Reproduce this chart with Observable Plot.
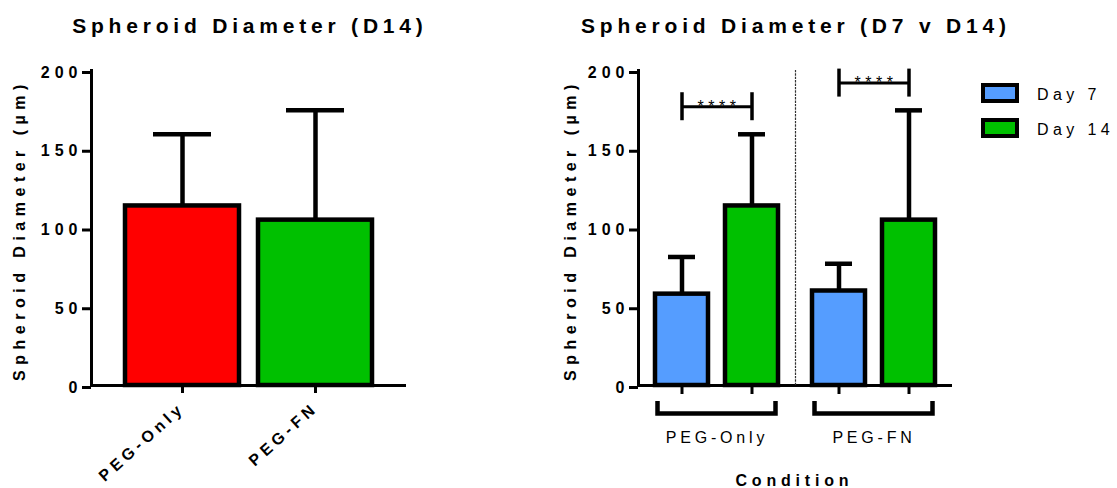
<!DOCTYPE html>
<html>
<head>
<meta charset="utf-8">
<script src="https://cdn.jsdelivr.net/npm/d3@7"></script>
<script src="https://cdn.jsdelivr.net/npm/@observablehq/plot@0.6"></script>
<style>
  html, body { margin: 0; padding: 0; background: #fff; }
  #chart { position: relative; width: 1117px; height: 488px; overflow: hidden; }
  #chart svg { position: absolute; top: 0; font-family: "Liberation Sans", Arial, sans-serif; overflow: visible; }
  #chart svg g[aria-label="y-axis tick label"] text { letter-spacing: 5px; }
  #chart svg g[aria-label="x-axis tick label"] text { letter-spacing: 4.3px; }
  #chart svg g[aria-description="y label"] text { letter-spacing: 5.5px; }
  #chart svg g[aria-description="group label"] text { letter-spacing: 3.8px; }
  #chart svg g[aria-description="significance"] text { letter-spacing: 4.5px; }
</style>
</head>
<body>
<div id="chart"></div>
<script>
// Spheroid diameter (µm), mean and SD per condition
const groups = ["PEG-Only", "PEG-FN"];
const days = ["Day 7", "Day 14"];
const d14Mean = [114, 105];
const d14Sd = [45.5, 69.7];
const d7Mean = [58, 60];
const d7Sd = [23.6, 17.3];
const groupColors = ["#ff0000", "#00c000"];
const dayColors = ["#559dff", "#00c000"];
const yTicks = [0, 50, 100, 150, 200];
const sigLevels = [177, 192];
const sigLabels = ["****", "****"];
const yLabel = "Spheroid Diameter (µm)";
const titles = ["Spheroid Diameter (D14)", "Spheroid Diameter (D7 v D14)"];
const xTitle = "Condition";

const d14Data = groups.map((g, i) => ({group: g, mean: d14Mean[i], sd: d14Sd[i]}));
const dayData = groups.flatMap((g, i) => [
  {group: g, day: days[0], mean: d7Mean[i], sd: d7Sd[i]},
  {group: g, day: days[1], mean: d14Mean[i], sd: d14Sd[i]}
]);
const sigData = groups.map((g, i) => ({group: g, from: days[0], to: days[1], y: sigLevels[i], label: sigLabels[i]}));
const sigEnds = sigData.flatMap((s) => [{group: s.group, day: s.from, y: s.y}, {group: s.group, day: s.to, y: s.y}]);

const errTop = (d) => d.mean + d.sd;

// Left panel: day-14 diameter by condition
const leftPlot = Plot.plot({
  width: 540, height: 488,
  marginLeft: 91, marginRight: 134, marginTop: 70, marginBottom: 103,
  x: {domain: groups, paddingInner: 0.142, paddingOuter: 0.2465},
  y: {domain: [0, 200]},
  color: {domain: groups, range: groupColors},
  marks: [
    Plot.ruleX(d14Data, {x: "group", y1: "mean", y2: errTop, strokeWidth: 4.5}),
    Plot.tickY(d14Data, {x: "group", y: errTop, insetLeft: 28, insetRight: 28, strokeWidth: 4.5}),
    Plot.barY(d14Data, {x: "group", y: "mean", fill: "group", stroke: "black", strokeWidth: 4.5}),
    Plot.ruleY([0], {strokeWidth: 3}),
    Plot.frame({anchor: "left", strokeWidth: 3}),
    Plot.axisY({ticks: yTicks, tickSize: 9, tickPadding: 0, dy: 2, strokeWidth: 3, label: null,
      fontSize: 16, fontWeight: "bold", fill: "black"}),
    Plot.axisX({tickSize: 8, tickRotate: -42, tickPadding: 12, strokeWidth: 3, label: null,
      fontSize: 16, fontWeight: "bold", fill: "black"}),
    Plot.text([yLabel], {text: (d) => d, frameAnchor: "left", textAnchor: "middle", rotate: -90, dx: -72, dy: 2,
      fontSize: 16, fontWeight: "bold", ariaDescription: "y label"})
  ]
});
leftPlot.style.left = "0px";

// Group brackets under each pair of bars
function groupBracket(index, {x, y}) {
  const bw = x.bandwidth();
  const a = x(days[0]) + 2.5;
  const b = x(days[days.length - 1]) + bw - 2.5;
  const y0 = y(0) + 16, y1 = y(0) + 28.5;
  return d3.create("svg:path")
    .attr("d", `M${a},${y0}V${y1}H${b}V${y0}`)
    .attr("fill", "none")
    .attr("stroke", "black")
    .attr("stroke-width", 4.5)
    .node();
}

// Right panel: day 7 vs day 14 within each condition
const rightPlot = Plot.plot({
  width: 577, height: 488,
  marginLeft: 97, marginRight: 165, marginTop: 70, marginBottom: 103,
  fx: {domain: groups, padding: 0, axis: null},
  x: {domain: days, paddingInner: 0.24, paddingOuter: 0.229},
  y: {domain: [0, 200]},
  color: {domain: days, range: dayColors},
  marks: [
    Plot.ruleX(dayData, {fx: "group", x: "day", y1: "mean", y2: errTop, strokeWidth: 4.5}),
    Plot.tickY(dayData, {fx: "group", x: "day", y: errTop, insetLeft: 13, insetRight: 13, strokeWidth: 4.5}),
    Plot.barY(dayData, {fx: "group", x: "day", y: "mean", fill: "day", stroke: "black", strokeWidth: 4.5}),
    Plot.ruleY([0], {strokeWidth: 3}),
    Plot.frame({anchor: "left", facetAnchor: "left", strokeWidth: 3}),
    Plot.frame({anchor: "left", facetAnchor: "right", strokeWidth: 1.2, strokeDasharray: "1.2 2.2", stroke: "#333"}),
    Plot.axisY({ticks: yTicks, tickSize: 9, tickPadding: 0, dy: 2, strokeWidth: 3, label: null,
      fontSize: 16, fontWeight: "bold", fill: "black"}),
    Plot.axisX({tickSize: 9, tickFormat: () => "", strokeWidth: 3, label: null}),
    Plot.link(sigData, {fx: "group", x1: "from", x2: "to", y1: "y", y2: "y", strokeWidth: 3}),
    Plot.ruleX(sigEnds, {fx: "group", x: "day", y1: "y", y2: "y", insetTop: -14, insetBottom: -14, strokeWidth: 3.5}),
    Plot.text(sigData, {fx: "group", y: "y", text: "label", frameAnchor: "middle", fontSize: 16, dx: 2,
      fill: "black", ariaDescription: "significance"}),
    groupBracket,
    Plot.text(groups, {fx: (d) => d, text: (d) => d, frameAnchor: "bottom", lineAnchor: "top", dy: 46,
      fontSize: 16, ariaDescription: "group label"}),
    Plot.text([yLabel], {text: (d) => d, frameAnchor: "left", textAnchor: "middle", rotate: -90, dx: -68, dy: 2,
      facetAnchor: "left", fontSize: 16, fontWeight: "bold", ariaDescription: "y label"})
  ]
});
rightPlot.style.left = "540px";

const chart = document.getElementById("chart");
chart.append(leftPlot, rightPlot);

// Titles, axis title and legend
const overlay = d3.create("svg")
  .attr("width", 1117).attr("height", 488)
  .style("left", "0px")
  .style("pointer-events", "none");

const titleX = [247.5, 793.5];
titles.forEach((t, i) => {
  overlay.append("text")
    .attr("x", titleX[i] + 2.4).attr("y", 32.5)
    .attr("text-anchor", "middle")
    .attr("font-size", 21).attr("font-weight", "bold")
    .style("letter-spacing", "4.8px")
    .text(t);
});

overlay.append("text")
  .attr("x", 792 + 2.4).attr("y", 486)
  .attr("text-anchor", "middle")
  .attr("font-size", 16).attr("font-weight", "bold")
  .style("letter-spacing", "4.8px")
  .text(xTitle);

days.forEach((d, i) => {
  const yy = 85 + i * 35;
  overlay.append("rect")
    .attr("x", 983).attr("y", yy).attr("width", 34).attr("height", 16)
    .attr("fill", dayColors[i]).attr("stroke", "black").attr("stroke-width", 4);
  overlay.append("text")
    .attr("x", 1037).attr("y", yy + 15)
    .attr("font-size", 16)
    .style("letter-spacing", "4.4px")
    .text(d);
});

chart.append(overlay.node());
</script>
</body>
</html>
